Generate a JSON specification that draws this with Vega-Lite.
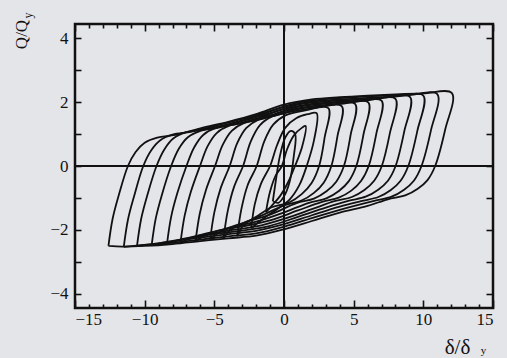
{
"$schema":"https://vega.github.io/schema/vega-lite/v6.json",
"width":418,"height":284,
"autosize":{"type":"none"},
"padding":{"left":75,"top":24,"right":14,"bottom":50},
"background":"#e4e5e9",
"config":{"view":{"stroke":"#111","strokeWidth":2.5,"fill":"#e4e5e9"},
"axis":{"labelFont":"Liberation Serif","titleFont":"Liberation Serif","labelColor":"#111","tickColor":"#111","titleColor":"#111","domain":false,"grid":false,"tickWidth":1.6,"labelFontSize":17,"titleFontWeight":"normal"}},
"resolve":{"axis":{"x":"independent","y":"independent"}},
"layer":[
{"data":{"values":[
{"l":12,"i":0,"x":-12.6,"y":-2.5},{"l":12,"i":1,"x":-12.3,"y":-1.65},{"l":12,"i":2,"x":-11.85,"y":-0.9},{"l":12,"i":3,"x":-11.2,"y":0},{"l":12,"i":4,"x":-10.65,"y":0.44},{"l":12,"i":5,"x":-10.0,"y":0.73},{"l":12,"i":6,"x":-9.1,"y":0.89},{"l":12,"i":7,"x":-7.8,"y":0.97},{"l":12,"i":8,"x":-6,"y":1.18},{"l":12,"i":9,"x":-4,"y":1.38},{"l":12,"i":10,"x":-2,"y":1.62},{"l":12,"i":11,"x":0,"y":1.92},{"l":12,"i":12,"x":2,"y":2.08},{"l":12,"i":13,"x":4,"y":2.15},{"l":12,"i":14,"x":6,"y":2.2},{"l":12,"i":15,"x":8,"y":2.24},{"l":12,"i":16,"x":10,"y":2.27},{"l":12,"i":17,"x":12.05,"y":2.28},{"l":12,"i":18,"x":11.57,"y":1.14},{"l":12,"i":19,"x":10.85,"y":0},{"l":12,"i":20,"x":10.3,"y":-0.44},{"l":12,"i":21,"x":9.6,"y":-0.71},{"l":12,"i":22,"x":8.7,"y":-0.92},{"l":12,"i":23,"x":7.45,"y":-1.04},{"l":12,"i":24,"x":6,"y":-1.25},{"l":12,"i":25,"x":4,"y":-1.46},{"l":12,"i":26,"x":2,"y":-1.72},{"l":12,"i":27,"x":0,"y":-1.98},{"l":12,"i":28,"x":-2,"y":-2.18},{"l":12,"i":29,"x":-4,"y":-2.26},{"l":12,"i":30,"x":-6,"y":-2.35},{"l":12,"i":31,"x":-8,"y":-2.44},{"l":12,"i":32,"x":-10,"y":-2.5},{"l":12,"i":33,"x":-11.6,"y":-2.52},{"l":12,"i":34,"x":-12.6,"y":-2.5},
{"l":11,"i":0,"x":-11.5,"y":-2.53},{"l":11,"i":1,"x":-11.2,"y":-1.68},{"l":11,"i":2,"x":-10.75,"y":-0.93},{"l":11,"i":3,"x":-10.1,"y":0},{"l":11,"i":4,"x":-9.55,"y":0.48},{"l":11,"i":5,"x":-8.9,"y":0.8},{"l":11,"i":6,"x":-8.0,"y":0.98},{"l":11,"i":7,"x":-6.7,"y":1.07},{"l":11,"i":8,"x":-5,"y":1.25},{"l":11,"i":9,"x":-3,"y":1.47},{"l":11,"i":10,"x":-1,"y":1.72},{"l":11,"i":11,"x":1,"y":1.98},{"l":11,"i":12,"x":3,"y":2.09},{"l":11,"i":13,"x":5,"y":2.15},{"l":11,"i":14,"x":7,"y":2.19},{"l":11,"i":15,"x":9,"y":2.22},{"l":11,"i":16,"x":11.0,"y":2.245},{"l":11,"i":17,"x":10.55,"y":1.12},{"l":11,"i":18,"x":9.87,"y":0},{"l":11,"i":19,"x":9.32,"y":-0.46},{"l":11,"i":20,"x":8.62,"y":-0.74},{"l":11,"i":21,"x":7.72,"y":-0.96},{"l":11,"i":22,"x":6.47,"y":-1.09},{"l":11,"i":23,"x":4,"y":-1.37},{"l":11,"i":24,"x":2,"y":-1.63},{"l":11,"i":25,"x":0,"y":-1.9},{"l":11,"i":26,"x":-2,"y":-2.11},{"l":11,"i":27,"x":-4,"y":-2.2},{"l":11,"i":28,"x":-6,"y":-2.3},{"l":11,"i":29,"x":-8,"y":-2.4},{"l":11,"i":30,"x":-10,"y":-2.47},{"l":11,"i":31,"x":-11.5,"y":-2.53},
{"l":10,"i":0,"x":-10.55,"y":-2.5},{"l":10,"i":1,"x":-10.25,"y":-1.65},{"l":10,"i":2,"x":-9.8,"y":-0.9},{"l":10,"i":3,"x":-9.15,"y":0},{"l":10,"i":4,"x":-8.6,"y":0.51},{"l":10,"i":5,"x":-7.95,"y":0.86},{"l":10,"i":6,"x":-7.05,"y":1.05},{"l":10,"i":7,"x":-5.75,"y":1.14},{"l":10,"i":8,"x":-4,"y":1.31},{"l":10,"i":9,"x":-2,"y":1.55},{"l":10,"i":10,"x":0,"y":1.85},{"l":10,"i":11,"x":2,"y":2.01},{"l":10,"i":12,"x":4,"y":2.08},{"l":10,"i":13,"x":6,"y":2.13},{"l":10,"i":14,"x":8,"y":2.17},{"l":10,"i":15,"x":10.0,"y":2.2},{"l":10,"i":16,"x":9.57,"y":1.1},{"l":10,"i":17,"x":8.92,"y":0},{"l":10,"i":18,"x":8.37,"y":-0.46},{"l":10,"i":19,"x":7.67,"y":-0.75},{"l":10,"i":20,"x":6.77,"y":-0.97},{"l":10,"i":21,"x":5.52,"y":-1.1},{"l":10,"i":22,"x":4,"y":-1.27},{"l":10,"i":23,"x":2,"y":-1.54},{"l":10,"i":24,"x":0,"y":-1.82},{"l":10,"i":25,"x":-2,"y":-2.03},{"l":10,"i":26,"x":-4,"y":-2.13},{"l":10,"i":27,"x":-6,"y":-2.24},{"l":10,"i":28,"x":-8,"y":-2.36},{"l":10,"i":29,"x":-9.5,"y":-2.44},{"l":10,"i":30,"x":-10.55,"y":-2.5},
{"l":9,"i":0,"x":-9.5,"y":-2.48},{"l":9,"i":1,"x":-9.2,"y":-1.63},{"l":9,"i":2,"x":-8.75,"y":-0.88},{"l":9,"i":3,"x":-8.1,"y":0},{"l":9,"i":4,"x":-7.55,"y":0.54},{"l":9,"i":5,"x":-6.9,"y":0.9},{"l":9,"i":6,"x":-6.0,"y":1.1},{"l":9,"i":7,"x":-4.7,"y":1.2},{"l":9,"i":8,"x":-3,"y":1.4},{"l":9,"i":9,"x":-1,"y":1.65},{"l":9,"i":10,"x":1,"y":1.92},{"l":9,"i":11,"x":3,"y":2.02},{"l":9,"i":12,"x":5,"y":2.07},{"l":9,"i":13,"x":7,"y":2.12},{"l":9,"i":14,"x":9.05,"y":2.155},{"l":9,"i":15,"x":8.63,"y":1.08},{"l":9,"i":16,"x":8.01,"y":0},{"l":9,"i":17,"x":7.46,"y":-0.46},{"l":9,"i":18,"x":6.76,"y":-0.74},{"l":9,"i":19,"x":5.86,"y":-0.96},{"l":9,"i":20,"x":4.61,"y":-1.09},{"l":9,"i":21,"x":3,"y":-1.3},{"l":9,"i":22,"x":1,"y":-1.59},{"l":9,"i":23,"x":-1,"y":-1.87},{"l":9,"i":24,"x":-3,"y":-2.02},{"l":9,"i":25,"x":-5,"y":-2.13},{"l":9,"i":26,"x":-7,"y":-2.27},{"l":9,"i":27,"x":-8.5,"y":-2.38},{"l":9,"i":28,"x":-9.5,"y":-2.48},
{"l":8,"i":0,"x":-8.4,"y":-2.44},{"l":8,"i":1,"x":-8.1,"y":-1.59},{"l":8,"i":2,"x":-7.65,"y":-0.84},{"l":8,"i":3,"x":-7.0,"y":0},{"l":8,"i":4,"x":-6.45,"y":0.58},{"l":8,"i":5,"x":-5.8,"y":0.97},{"l":8,"i":6,"x":-4.9,"y":1.19},{"l":8,"i":7,"x":-3.6,"y":1.29},{"l":8,"i":8,"x":-2,"y":1.48},{"l":8,"i":9,"x":0,"y":1.78},{"l":8,"i":10,"x":2,"y":1.94},{"l":8,"i":11,"x":4,"y":2.01},{"l":8,"i":12,"x":6,"y":2.06},{"l":8,"i":13,"x":8.0,"y":2.1},{"l":8,"i":14,"x":7.61,"y":1.05},{"l":8,"i":15,"x":7.02,"y":0},{"l":8,"i":16,"x":6.47,"y":-0.46},{"l":8,"i":17,"x":5.77,"y":-0.75},{"l":8,"i":18,"x":4.87,"y":-0.97},{"l":8,"i":19,"x":3.62,"y":-1.1},{"l":8,"i":20,"x":2,"y":-1.35},{"l":8,"i":21,"x":0,"y":-1.65},{"l":8,"i":22,"x":-2,"y":-1.89},{"l":8,"i":23,"x":-4,"y":-2.02},{"l":8,"i":24,"x":-6,"y":-2.17},{"l":8,"i":25,"x":-7.5,"y":-2.31},{"l":8,"i":26,"x":-8.4,"y":-2.44},
{"l":7,"i":0,"x":-7.43,"y":-2.4},{"l":7,"i":1,"x":-7.13,"y":-1.55},{"l":7,"i":2,"x":-6.68,"y":-0.8},{"l":7,"i":3,"x":-6.03,"y":0},{"l":7,"i":4,"x":-5.48,"y":0.62},{"l":7,"i":5,"x":-4.83,"y":1.03},{"l":7,"i":6,"x":-3.93,"y":1.26},{"l":7,"i":7,"x":-2.63,"y":1.37},{"l":7,"i":8,"x":-1,"y":1.58},{"l":7,"i":9,"x":1,"y":1.85},{"l":7,"i":10,"x":3,"y":1.95},{"l":7,"i":11,"x":5,"y":2.0},{"l":7,"i":12,"x":7.0,"y":2.045},{"l":7,"i":13,"x":6.63,"y":1.02},{"l":7,"i":14,"x":6.08,"y":0},{"l":7,"i":15,"x":5.53,"y":-0.47},{"l":7,"i":16,"x":4.83,"y":-0.77},{"l":7,"i":17,"x":3.93,"y":-0.99},{"l":7,"i":18,"x":2.68,"y":-1.13},{"l":7,"i":19,"x":1,"y":-1.39},{"l":7,"i":20,"x":-1,"y":-1.7},{"l":7,"i":21,"x":-3,"y":-1.89},{"l":7,"i":22,"x":-5,"y":-2.05},{"l":7,"i":23,"x":-6.5,"y":-2.22},{"l":7,"i":24,"x":-7.43,"y":-2.4},
{"l":6,"i":0,"x":-6.35,"y":-2.35},{"l":6,"i":1,"x":-6.05,"y":-1.5},{"l":6,"i":2,"x":-5.6,"y":-0.75},{"l":6,"i":3,"x":-4.95,"y":0},{"l":6,"i":4,"x":-4.4,"y":0.66},{"l":6,"i":5,"x":-3.75,"y":1.1},{"l":6,"i":6,"x":-2.85,"y":1.35},{"l":6,"i":7,"x":-1.55,"y":1.47},{"l":6,"i":8,"x":0,"y":1.71},{"l":6,"i":9,"x":2,"y":1.87},{"l":6,"i":10,"x":4,"y":1.94},{"l":6,"i":11,"x":6.05,"y":1.99},{"l":6,"i":12,"x":5.71,"y":1.0},{"l":6,"i":13,"x":5.19,"y":0},{"l":6,"i":14,"x":4.64,"y":-0.48},{"l":6,"i":15,"x":3.94,"y":-0.78},{"l":6,"i":16,"x":3.04,"y":-1.01},{"l":6,"i":17,"x":1.79,"y":-1.15},{"l":6,"i":18,"x":0,"y":-1.45},{"l":6,"i":19,"x":-2,"y":-1.74},{"l":6,"i":20,"x":-4,"y":-1.94},{"l":6,"i":21,"x":-5.5,"y":-2.13},{"l":6,"i":22,"x":-6.35,"y":-2.35},
{"l":5,"i":0,"x":-5.3,"y":-2.3},{"l":5,"i":1,"x":-5.0,"y":-1.45},{"l":5,"i":2,"x":-4.55,"y":-0.7},{"l":5,"i":3,"x":-3.9,"y":0},{"l":5,"i":4,"x":-3.35,"y":0.72},{"l":5,"i":5,"x":-2.7,"y":1.19},{"l":5,"i":6,"x":-1.8,"y":1.46},{"l":5,"i":7,"x":-0.5,"y":1.59},{"l":5,"i":8,"x":1,"y":1.78},{"l":5,"i":9,"x":3,"y":1.88},{"l":5,"i":10,"x":5.1,"y":1.94},{"l":5,"i":11,"x":4.78,"y":0.97},{"l":5,"i":12,"x":4.3,"y":0},{"l":5,"i":13,"x":3.75,"y":-0.49},{"l":5,"i":14,"x":3.05,"y":-0.79},{"l":5,"i":15,"x":2.15,"y":-1.02},{"l":5,"i":16,"x":0.9,"y":-1.16},{"l":5,"i":17,"x":-1,"y":-1.52},{"l":5,"i":18,"x":-3,"y":-1.79},{"l":5,"i":19,"x":-4.5,"y":-2.03},{"l":5,"i":20,"x":-5.3,"y":-2.3},
{"l":4,"i":0,"x":-4.34,"y":-2.26},{"l":4,"i":1,"x":-4.04,"y":-1.41},{"l":4,"i":2,"x":-3.59,"y":-0.66},{"l":4,"i":3,"x":-2.94,"y":0},{"l":4,"i":4,"x":-2.39,"y":0.76},{"l":4,"i":5,"x":-1.74,"y":1.27},{"l":4,"i":6,"x":-0.84,"y":1.55},{"l":4,"i":7,"x":0.46,"y":1.69},{"l":4,"i":8,"x":2,"y":1.8},{"l":4,"i":9,"x":4.14,"y":1.87},{"l":4,"i":10,"x":3.84,"y":0.94},{"l":4,"i":11,"x":3.4,"y":0},{"l":4,"i":12,"x":2.85,"y":-0.52},{"l":4,"i":13,"x":2.15,"y":-0.84},{"l":4,"i":14,"x":1.25,"y":-1.08},{"l":4,"i":15,"x":0,"y":-1.23},{"l":4,"i":16,"x":-1.5,"y":-1.53},{"l":4,"i":17,"x":-3,"y":-1.8},{"l":4,"i":18,"x":-3.9,"y":-2.01},{"l":4,"i":19,"x":-4.34,"y":-2.26},
{"l":3,"i":0,"x":-3.36,"y":-2.2},{"l":3,"i":1,"x":-3.06,"y":-1.35},{"l":3,"i":2,"x":-2.61,"y":-0.6},{"l":3,"i":3,"x":-1.96,"y":0},{"l":3,"i":4,"x":-1.41,"y":0.78},{"l":3,"i":5,"x":-0.76,"y":1.3},{"l":3,"i":6,"x":0.14,"y":1.59},{"l":3,"i":7,"x":1.44,"y":1.73},{"l":3,"i":8,"x":3.18,"y":1.81},{"l":3,"i":9,"x":2.92,"y":0.9},{"l":3,"i":10,"x":2.52,"y":0},{"l":3,"i":11,"x":1.97,"y":-0.54},{"l":3,"i":12,"x":1.27,"y":-0.88},{"l":3,"i":13,"x":0.37,"y":-1.14},{"l":3,"i":14,"x":-0.88,"y":-1.29},{"l":3,"i":15,"x":-2,"y":-1.59},{"l":3,"i":16,"x":-2.9,"y":-1.85},{"l":3,"i":17,"x":-3.36,"y":-2.2},
{"l":2,"i":0,"x":-2.35,"y":-1.95},{"l":2,"i":1,"x":-2.1,"y":-1.2},{"l":2,"i":2,"x":-1.65,"y":-0.55},{"l":2,"i":3,"x":-1.0,"y":0},{"l":2,"i":4,"x":-0.5,"y":0.65},{"l":2,"i":5,"x":0.1,"y":1.2},{"l":2,"i":6,"x":0.9,"y":1.5},{"l":2,"i":7,"x":1.7,"y":1.62},{"l":2,"i":8,"x":2.34,"y":1.65},{"l":2,"i":9,"x":2.15,"y":0.8},{"l":2,"i":10,"x":1.63,"y":0},{"l":2,"i":11,"x":1.1,"y":-0.6},{"l":2,"i":12,"x":0.4,"y":-1.05},{"l":2,"i":13,"x":-0.5,"y":-1.35},{"l":2,"i":14,"x":-1.5,"y":-1.65},{"l":2,"i":15,"x":-2.35,"y":-1.95},
{"l":1,"i":0,"x":-1.3,"y":-1.45},{"l":1,"i":1,"x":-1.0,"y":-0.8},{"l":1,"i":2,"x":-0.6,"y":-0.3},{"l":1,"i":3,"x":-0.15,"y":0},{"l":1,"i":4,"x":0.2,"y":0.5},{"l":1,"i":5,"x":0.7,"y":0.95},{"l":1,"i":6,"x":1.3,"y":1.2},{"l":1,"i":7,"x":1.55,"y":1.25},{"l":1,"i":8,"x":1.3,"y":0.6},{"l":1,"i":9,"x":0.79,"y":0},{"l":1,"i":10,"x":0.3,"y":-0.5},{"l":1,"i":11,"x":-0.3,"y":-0.95},{"l":1,"i":12,"x":-0.9,"y":-1.25},{"l":1,"i":13,"x":-1.3,"y":-1.45},
{"l":0,"i":0,"x":-0.8,"y":-1.1},{"l":0,"i":1,"x":-0.6,"y":-0.5},{"l":0,"i":2,"x":-0.3,"y":0.3},{"l":0,"i":3,"x":0.1,"y":0.9},{"l":0,"i":4,"x":0.5,"y":1.1},{"l":0,"i":5,"x":0.8,"y":1.0},{"l":0,"i":6,"x":0.7,"y":0.3},{"l":0,"i":7,"x":0.4,"y":-0.5},{"l":0,"i":8,"x":0.0,"y":-0.95},{"l":0,"i":9,"x":-0.4,"y":-1.15},{"l":0,"i":10,"x":-0.8,"y":-1.1}
]},
"mark":{"type":"line","interpolate":"catmull-rom","stroke":"#111","strokeWidth":1.8},
"encoding":{
"x":{"field":"x","type":"quantitative","scale":{"domain":[-15,15],"nice":false,"zero":false},
"axis":{"orient":"bottom","values":[-15,-10,-5,0,5,10,15],"tickSize":-8,"labelPadding":11,"title":"δ/δ","titleX":382,"titleY":39,"titleAlign":"center","titleBaseline":"middle","titleFontSize":21}},
"y":{"field":"y","type":"quantitative","scale":{"domain":[-4.44,4.44],"nice":false,"zero":false},
"axis":{"orient":"left","values":[-4,-3,-2,-1,0,1,2,3,4],"tickSize":-6,"labelExpr":"datum.value % 2 === 0 ? datum.label : ''","labelPadding":13,"title":"Q/Q","titleX":-54,"titleY":10,"titleAngle":-90,"titleAlign":"center","titleBaseline":"middle","titleFontSize":17}},
"detail":{"field":"l","type":"nominal"},
"order":{"field":"i","type":"quantitative"}}},
{"data":{"values":[{"v":0}]},"mark":{"type":"rule","stroke":"#111","strokeWidth":2},
"encoding":{"y":{"datum":0,"type":"quantitative","axis":{"orient":"right","values":[-4,-3,-2,-1,0,1,2,3,4],"tickSize":-7,"labels":false,"title":null}}}},
{"data":{"values":[{"v":0}]},"mark":{"type":"rule","stroke":"#111","strokeWidth":2},
"encoding":{"x":{"datum":0,"type":"quantitative","axis":{"orient":"bottom","values":[-14,-13,-12,-11,-9,-8,-7,-6,-4,-3,-2,-1,1,2,3,4,6,7,8,9,11,12,13,14],"tickSize":-4,"labels":false,"title":"y","titleX":408,"titleY":42,"titleAlign":"center","titleBaseline":"middle","titleFontSize":11}}}},
{"data":{"values":[{"v":0}]},"mark":{"type":"rule","stroke":"#111","strokeWidth":2},
"encoding":{"x":{"datum":0,"type":"quantitative","axis":{"orient":"top","values":[-15,-10,-5,0,5,10,15],"tickSize":-7,"labels":false,"title":null}}}},
{"data":{"values":[{"v":0}]},"mark":{"type":"rule","stroke":"#111","strokeWidth":2},
"encoding":{"x":{"datum":0,"type":"quantitative","axis":{"orient":"top","values":[-14,-13,-12,-11,-9,-8,-7,-6,-4,-3,-2,-1,1,2,3,4,6,7,8,9,11,12,13,14],"tickSize":-4,"labels":false,"title":null}}}},
{"data":{"values":[{"v":0}]},"mark":{"type":"rule","stroke":"#111","strokeWidth":2},
"encoding":{"y":{"datum":0,"type":"quantitative","axis":{"orient":"left","ticks":false,"labels":false,"title":"y","titleX":-48,"titleY":-9,"titleAngle":-90,"titleAlign":"center","titleBaseline":"middle","titleFontSize":12}}}}
]}
